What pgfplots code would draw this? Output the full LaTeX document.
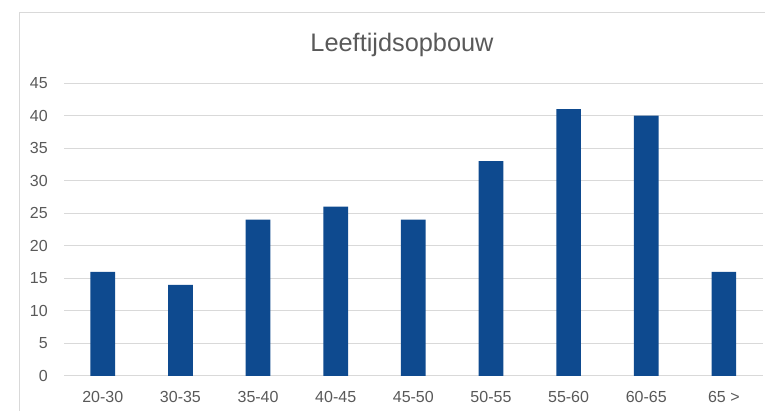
\documentclass[border=0pt]{standalone}
\usepackage{pgfplots}
\pgfplotsset{compat=1.18}
\usepackage{fontspec}
\setmainfont{Liberation Sans}
\definecolor{barc}{RGB}{14,74,143}
\definecolor{gridc}{RGB}{217,217,217}
\definecolor{txt}{RGB}{89,89,89}
\begin{document}
\begin{tikzpicture}[x=0.75pt,y=0.75pt]
\useasboundingbox (0,0) rectangle (765,411);
\draw[gridc, line width=0.75pt] (19,0) -- (19,398) -- (765,398);
\node[text=txt, font=\fontsize{19}{22}\selectfont] at (402,366) {Leeftijdsopbouw};
\begin{axis}[
  at={(48pt,26.25pt)}, anchor=south west,
  scale only axis, width=524pt, height=219.75pt,
  xmin=-0.5, xmax=8.5, ymin=0, ymax=45,
  ytick={0,5,...,45},
  xtick={0,...,8},
  xticklabels={20-30,30-35,35-40,40-45,45-50,50-55,55-60,60-65,65 >},
  ymajorgrids, grid style={gridc, line width=0.75pt},
  axis line style={draw=none}, major tick length=0pt,
  /pgf/number format/assume math mode=true,
  tick label style={font=\fontsize{12}{14}\selectfont, text=txt, inner sep=0pt},
  yticklabel style={anchor=east, xshift=-12pt},
  xticklabel style={anchor=center, yshift=-16pt},
  ybar, bar width=18.5pt,
  clip=false,
]
\addplot[fill=barc, draw=none] coordinates {(0,16) (1,14) (2,24) (3,26) (4,24) (5,33) (6,41) (7,40) (8,16)};
\end{axis}
\end{tikzpicture}
\end{document}
